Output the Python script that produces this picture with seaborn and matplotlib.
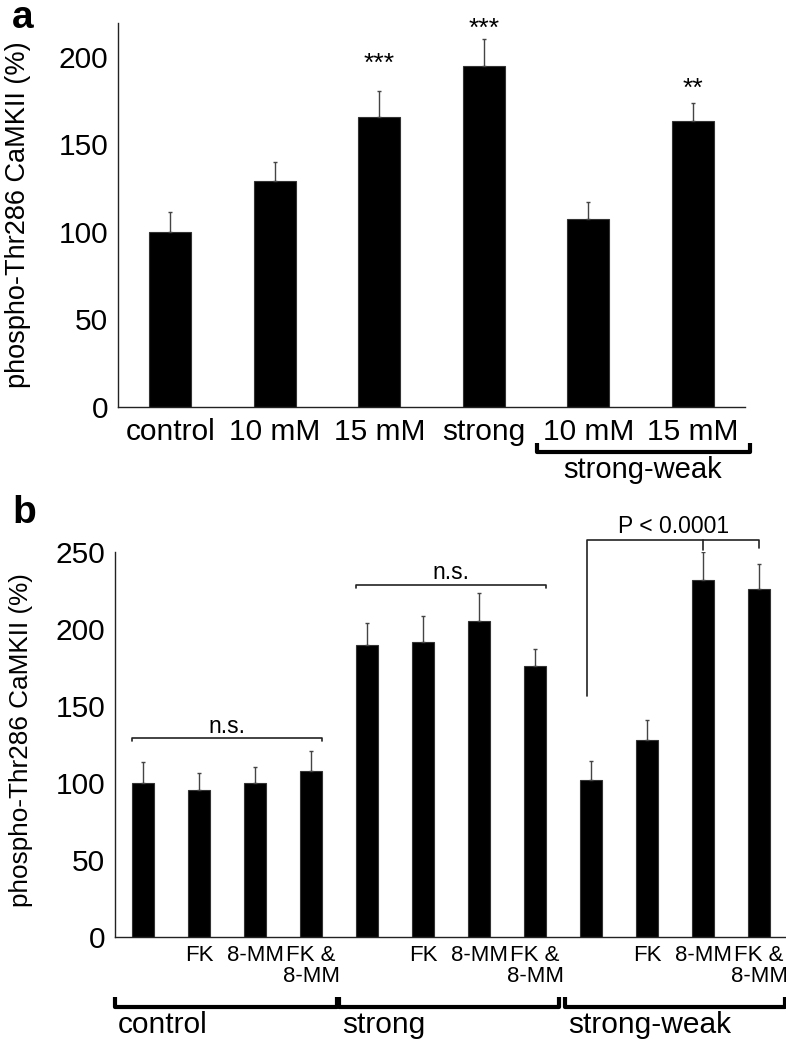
import matplotlib
matplotlib.use("Agg")
import matplotlib.pyplot as plt
import matplotlib.transforms as mtransforms
import numpy as np
import pandas as pd
import seaborn as sns

# panel a
a_labels = ["control", "10 mM", "15 mM", "strong", "10 mM", "15 mM"]
a_mean = [100, 129.4, 165.9, 194.9, 107.3, 163.3]
a_err = [11.3, 10.5, 14.9, 15.4, 9.7, 10.2]
a_stars = ["", "", "***", "***", "", "**"]

# panel b
b_groups = ["control"] * 4 + ["strong"] * 4 + ["strong-weak"] * 4
b_treat = ["", "FK", "8-MM", "FK &\n8-MM"] * 3
b_mean = [100.0, 95.6, 100.3, 107.6, 189.7, 191.3, 205.3, 175.7,
          101.7, 127.7, 231.8, 225.9]
b_err = [13.5, 10.6, 9.9, 13.0, 14.2, 17.3, 18.2, 11.6,
         12.8, 13.0, 18.2, 16.5]

YLAB = "phospho-Thr286 CaMKII (%)"


def draw_bars(ax, names, means, errs):
    df = pd.DataFrame({"cond": names, "val": means})
    sns.barplot(data=df, x="cond", y="val", order=names, color="black",
                saturation=1, width=0.4, errorbar=None, ax=ax,
                edgecolor="#333333", linewidth=0.8)
    x = np.arange(len(means))
    ax.errorbar(x, means, yerr=[np.zeros(len(errs)), errs], fmt="none",
                ecolor="#444444", elinewidth=1.0, capsize=1.5, capthick=1.0)
    for s in ["top", "right"]:
        ax.spines[s].set_visible(False)
    for s in ["left", "bottom"]:
        ax.spines[s].set_color("#222222")
        ax.spines[s].set_linewidth(1.0)
    ax.set_xlim(-0.5, len(means) - 0.5)
    ax.tick_params(axis="x", which="major", length=0)
    ax.tick_params(axis="x", which="minor", direction="in", length=4,
                   width=0.8, color="#333333")
    ax.tick_params(axis="y", direction="in", length=4, width=0.8,
                   labelsize=21.5, pad=7, color="#333333")
    ax.set_xlabel("")


def bracket_below(ax, x0, x1, y, leg, lw):
    tr = mtransforms.blended_transform_factory(ax.transData, ax.transAxes)
    ax.plot([x0, x0, x1, x1], [y + leg, y, y, y + leg], color="black",
            lw=lw, transform=tr, clip_on=False, solid_capstyle="butt")


sns.set_style("white")
plt.rcParams["font.family"] = ["Liberation Sans", "DejaVu Sans"]
plt.rcParams["text.color"] = "black"
plt.rcParams["axes.labelcolor"] = "black"
plt.rcParams["xtick.color"] = "black"
plt.rcParams["ytick.color"] = "black"

W, H = 786, 1043
fig = plt.figure(figsize=(W / 100, H / 100), dpi=100)

# ---------- panel a ----------
axa = fig.add_axes([118 / W, 1 - 407 / H, (745 - 118) / W, (407 - 23) / H])
a_names = [f"a{i}" for i in range(len(a_labels))]
draw_bars(axa, a_names, a_mean, a_err)
axa.set_ylim(0, 219.4)
axa.set_yticks([0, 50, 100, 150, 200])
axa.set_xticks(range(len(a_labels)))
axa.set_xticklabels(a_labels, fontsize=21.5)
axa.tick_params(axis="x", which="major", pad=8)
axa.set_xticks(np.arange(len(a_labels)) + 0.5, minor=True)
axa.set_ylabel(YLAB, fontsize=19.5)
axa.yaxis.set_label_coords(-0.138, 0.5)

star_y = [0, 0, 196, 216, 0, 181.5]
for i, s in enumerate(a_stars):
    if s:
        axa.text(i, star_y[i], s, ha="center", va="center", fontsize=19)

bracket_below(axa, 3.51, 5.55, -0.117, 0.023, 3)
axa.text(4.52, -0.164, "strong-weak", transform=mtransforms.blended_transform_factory(
    axa.transData, axa.transAxes), ha="center", va="center", fontsize=21)

fig.text(12 / W, 1 - 28 / H, "a", fontsize=28, fontweight="bold", va="baseline")

# ---------- panel b ----------
axb = fig.add_axes([115 / W, 1 - 937 / H, (787 - 115) / W, (937 - 552) / H])
b_names = [f"{g}:{t}" for g, t in zip(b_groups, b_treat)]
draw_bars(axb, b_names, b_mean, b_err)
axb.set_ylim(0, 250)
axb.set_yticks([0, 50, 100, 150, 200, 250])
axb.set_xticks(range(len(b_treat)))
axb.set_xticklabels(b_treat, fontsize=16, linespacing=1.0)
axb.tick_params(axis="x", which="major", pad=6)
axb.set_xticks(np.arange(len(b_treat)) + 0.5, minor=True)
axb.set_ylabel(YLAB, fontsize=18.8)
axb.yaxis.set_label_coords(-0.122, 0.512)

# n.s. brackets
for x0, x1, y, ty in [(-0.2, 3.2, 129, 137), (3.8, 7.2, 228.7, 237)]:
    axb.plot([x0, x0, x1, x1], [y - 2, y, y, y - 2], color="#222222", lw=1.2,
             clip_on=False)
    axb.text((x0 + x1) / 2, ty, "n.s.", ha="center", va="center", fontsize=16.5)

# P bracket
axb.plot([7.92, 7.92, 11, 11], [156.6, 257.6, 257.6, 252.8], color="#222222",
         lw=1.2, clip_on=False)
axb.plot([10, 10], [257.6, 251], color="#222222", lw=1.2, clip_on=False)
axb.text(9.48, 266.5, "P < 0.0001", ha="center", va="center", fontsize=16.5)

# group brackets
trb = mtransforms.blended_transform_factory(axb.transData, axb.transAxes)
group_names = ["control", "strong", "strong-weak"]
for k, (x0, x1) in enumerate([(-0.5, 3.46), (3.5, 7.43), (7.54, 11.46)]):
    bracket_below(axb, x0, x1, -0.182, 0.026, 3)
    axb.text(x0 + 0.06 if k else -0.45, -0.229, group_names[k], transform=trb,
             ha="left", va="center", fontsize=21.5)

fig.text(12 / W, 1 - 523 / H, "b", fontsize=28, fontweight="bold", va="baseline")

fig.savefig("out.png", dpi=100)
